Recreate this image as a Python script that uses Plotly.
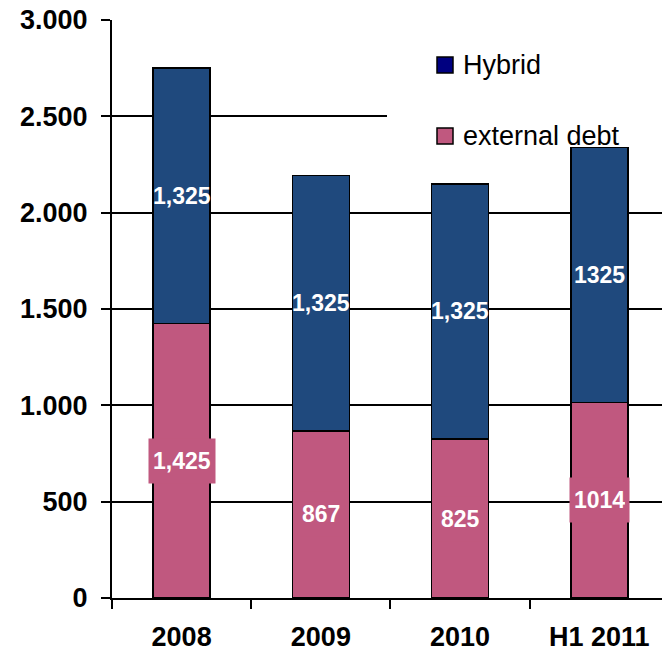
import plotly.graph_objects as go

# Debt structure by period
periods = ["2008", "2009", "2010", "H1 2011"]
external_debt = [1425, 867, 825, 1014]
hybrid = [1325, 1325, 1325, 1325]
# whether the label uses a thousands separator
label_sep = [True, True, True, False]

y_ticks = [0, 500, 1000, 1500, 2000, 2500, 3000]
y_ticktext = [f"{v:,}".replace(",", ".") for v in y_ticks]

HYBRID_COLOR = "#1F497D"
DEBT_COLOR = "#C0587F"
LEGEND_HYBRID = "#000080"
FONT = "Arial, Liberation Sans, sans-serif"

W, H = 662, 653
ML, MR, MT, MB = 112, 0, 20, 55
PW, PH = W - ML - MR, H - MT - MB


def px_x(px):
    return (px - ML) / PW


def px_y(py):
    return (H - MB - py) / PH


def fmt(v, sep):
    return f"{v:,}" if sep else str(v)


fig = go.Figure()
fig.add_bar(x=periods, y=external_debt, name="external debt",
            marker=dict(color=DEBT_COLOR, line=dict(color="black", width=1.5)),
            width=0.41, showlegend=False)
fig.add_bar(x=periods, y=hybrid, name="Hybrid",
            marker=dict(color=HYBRID_COLOR, line=dict(color="black", width=1.5)),
            width=0.41, showlegend=False)

annotations = []
for i, (d, h, s) in enumerate(zip(external_debt, hybrid, label_sep)):
    annotations.append(dict(x=i, y=d / 2, xref="x", yref="y", text=fmt(d, s),
                            showarrow=False, bgcolor=DEBT_COLOR, height=36, borderpad=4,
                            font=dict(family=FONT, size=23, color="white", weight="bold")))
    annotations.append(dict(x=i, y=d + h / 2, xref="x", yref="y", text=fmt(h, s),
                            showarrow=False,
                            font=dict(family=FONT, size=23, color="white", weight="bold")))

# legend panel: white background, then swatches and labels
legend_items = [("Hybrid", LEGEND_HYBRID, 65), ("external debt", DEBT_COLOR, 136)]
shapes = [dict(type="rect", xref="paper", yref="y", x0=px_x(387), x1=1.0,
               y0=2360, y1=2960, fillcolor="white", line=dict(width=0), layer="above")]
for label, color, cy in legend_items:
    shapes.append(dict(type="rect", xref="paper", yref="paper",
                       x0=px_x(437), x1=px_x(453), y0=px_y(cy + 8), y1=px_y(cy - 8),
                       fillcolor=color, line=dict(color="black", width=1.5), layer="above"))
    annotations.append(dict(x=px_x(461), y=px_y(cy), xref="paper", yref="paper",
                            text=label, showarrow=False, xanchor="left", yanchor="middle",
                            font=dict(family=FONT, size=27, color="black")))

fig.update_layout(
    barmode="stack",
    width=W, height=H,
    margin=dict(l=ML, r=MR, t=MT, b=MB),
    paper_bgcolor="white", plot_bgcolor="white",
    shapes=shapes, annotations=annotations,
    showlegend=False,
    xaxis=dict(range=[-0.5, 3.45], showline=True, linecolor="black", linewidth=2,
               ticks="outside", tickson="boundaries", ticklen=9, tickwidth=1.5,
               tickcolor="black", showgrid=False, ticklabelstandoff=14,
               tickfont=dict(family=FONT, size=27, color="black", weight="bold")),
    yaxis=dict(range=[0, 3000], tickvals=y_ticks, ticktext=y_ticktext,
               showline=True, linecolor="black", linewidth=2,
               ticks="outside", ticklen=9, tickwidth=1.5, tickcolor="black",
               showgrid=True, gridcolor="black", gridwidth=1.5, zeroline=False,
               ticklabelstandoff=8,
               tickfont=dict(family=FONT, size=27, color="black", weight="bold")),
)

fig.write_html("out.html")
